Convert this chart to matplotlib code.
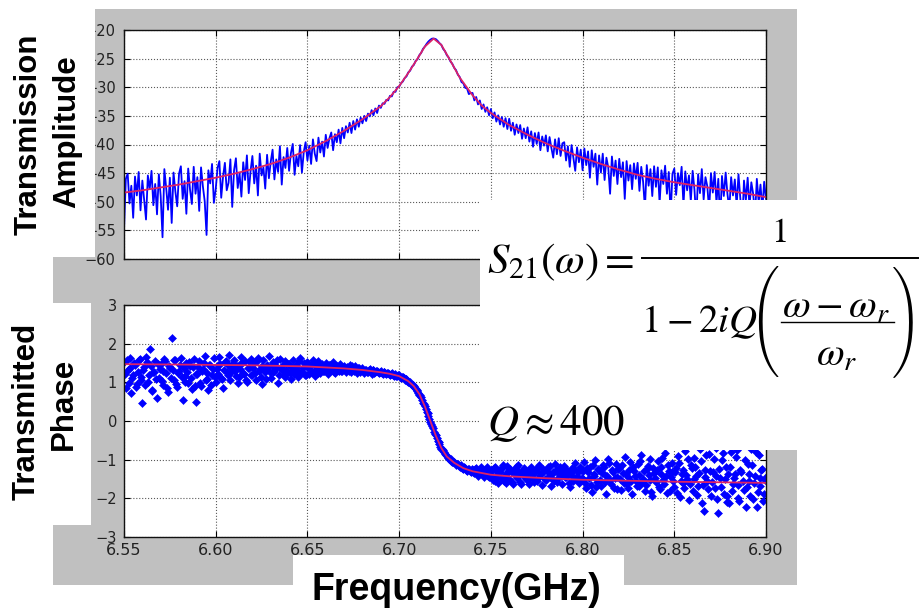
import os
import numpy as np
import matplotlib
matplotlib.use("Agg")
import matplotlib.pyplot as plt
from matplotlib.patches import Rectangle
from matplotlib.lines import Line2D
from matplotlib.font_manager import FontProperties

# ---------------- data ----------------
f_start, f_stop = 6.55, 6.90

# measured transmission amplitude (dB), sweep step 0.001 GHz
amp_db = [
    -54.9, -46.0, -45.1, -50.3, -47.2, -52.8, -45.6, -48.9, -44.8, -51.5,
    -46.3, -49.7, -53.1, -45.4, -47.8, -44.6, -50.6, -46.9, -52.2, -45.2,
    -49.0, -56.2, -44.3, -47.6, -51.4, -45.8, -53.7, -44.9, -48.2, -50.8,
    -45.1, -43.8, -49.5, -46.4, -52.1, -44.2, -47.9, -50.4, -43.9, -48.6,
    -45.7, -51.6, -44.0, -47.3, -49.9, -55.8, -44.5, -46.8, -43.4, -50.2,
    -47.8, -44.1, -42.9, -49.3, -45.6, -43.2, -48.0, -46.7, -42.6, -50.9,
    -44.5, -42.4, -47.6, -45.0, -49.1, -43.1, -46.2, -41.9, -48.5, -44.6,
    -42.0, -46.8, -43.7, -48.9, -41.6, -45.4, -44.0, -47.7, -41.8, -45.9,
    -43.0, -40.9, -46.1, -42.6, -44.8, -40.3, -47.0, -42.2, -44.1, -40.6,
    -44.6, -41.5, -39.9, -45.3, -42.0, -43.8, -40.1, -44.9, -41.3, -39.6,
    -42.8, -40.2, -43.4, -39.1, -41.6, -42.9, -38.8, -41.4, -39.5, -42.1,
    -38.3, -40.6, -38.9, -37.9, -41.0, -38.2, -39.6, -37.4, -39.8, -37.1,
    -38.9, -36.8, -37.9, -36.2, -38.0, -35.9, -37.4, -35.6, -36.9, -35.3,
    -36.3, -35.0, -35.9, -34.6, -35.1, -34.0, -34.9, -33.7, -34.5, -33.2,
    -33.6, -32.8, -32.9, -32.2, -32.3, -31.5, -31.6, -30.8, -30.8, -30.0,
    -29.9, -29.3, -29.0, -28.4, -28.1, -27.4, -27.1, -26.4, -26.1, -25.4,
    -25.1, -24.4, -24.0, -23.3, -22.9, -22.4, -22.0, -21.7, -21.5, -21.5,
    -21.6, -21.9, -22.3, -22.6, -23.3, -23.7, -24.4, -24.8, -25.5, -25.9,
    -26.6, -27.0, -27.8, -28.2, -29.1, -29.3, -30.1, -30.2, -31.2, -31.0,
    -31.0, -32.3, -31.7, -33.0, -32.3, -33.8, -33.0, -34.3, -33.5, -34.9,
    -33.8, -35.4, -34.4, -36.0, -34.9, -36.5, -35.2, -36.9, -35.4, -37.3,
    -35.5, -37.6, -36.2, -38.3, -36.5, -38.0, -36.6, -39.0, -37.2, -38.9,
    -37.0, -39.5, -37.7, -40.4, -38.0, -39.9, -37.9, -41.0, -38.6, -40.2,
    -38.4, -41.2, -38.7, -40.6, -42.3, -39.1, -41.7, -38.9, -42.0, -39.8,
    -39.6, -42.8, -40.3, -43.9, -40.1, -42.4, -44.6, -40.5, -43.1, -40.9,
    -44.5, -40.7, -43.6, -41.2, -45.8, -41.0, -43.9, -41.6, -47.0, -41.9,
    -44.9, -41.6, -46.2, -42.3, -44.0, -48.6, -42.1, -45.5, -42.8, -46.9,
    -42.5, -45.7, -43.1, -49.5, -42.9, -46.3, -43.6, -47.8, -43.3, -46.0,
    -43.2, -48.1, -43.9, -46.5, -51.2, -43.6, -47.2, -44.3, -49.0, -43.8,
    -47.4, -44.0, -50.3, -44.5, -46.9, -43.7, -48.6, -44.8, -52.4, -45.1,
    -44.2, -48.8, -45.0, -47.1, -43.9, -50.6, -44.7, -48.0, -45.4, -49.9,
    -44.6, -47.9, -53.0, -45.2, -48.5, -44.3, -49.6, -45.7, -47.3, -51.5,
    -45.0, -48.4, -44.8, -50.2, -46.0, -53.6, -45.5, -49.0, -44.9, -48.7,
    -51.3, -45.7, -48.9, -46.1, -50.7, -45.2, -49.4, -54.2, -46.3, -49.8,
    -45.8, -50.9, -46.6, -48.6, -52.5, -46.0, -50.1, -47.0, -51.4, -46.5,
    -49.5,
]

# fitted amplitude curve (dB)
fit_amp_f = [6.55, 6.56, 6.57, 6.58, 6.59, 6.60, 6.61, 6.62, 6.63, 6.64,
             6.65, 6.66, 6.67, 6.68, 6.69, 6.695, 6.70, 6.705, 6.71, 6.714,
             6.7188, 6.723, 6.728, 6.733, 6.74, 6.745, 6.75, 6.76, 6.77, 6.78,
             6.79, 6.80, 6.81, 6.82, 6.83, 6.84, 6.85, 6.86, 6.87, 6.88,
             6.89, 6.90]
fit_amp_db = [-48.4, -48.0, -47.5, -47.0, -46.4, -45.8, -45.1, -44.3, -43.4, -42.3,
              -41.0, -39.4, -37.6, -35.6, -33.3, -31.7, -29.8, -27.5, -25.0, -22.9,
              -21.5, -22.6, -25.4, -28.3, -31.4, -33.2, -34.5, -36.6, -38.3, -39.8,
              -41.1, -42.3, -43.4, -44.4, -45.3, -46.0, -46.6, -47.1, -47.6, -48.1,
              -48.6, -49.2]

# measured transmitted phase (rad), points at 6.550, 6.551, ... 6.900 GHz
phase = [
    1.52, 0.85, 1.31, 1.63, 0.72, 1.18, 1.45, 0.96, 1.58, 1.07,
    0.46, 1.39, 1.66, 1.02, 1.85, 0.78, 1.27, 1.55, 0.60, 1.12,
    1.48, 0.92, 1.61, 1.24, 0.74, 1.37, 2.15, 1.05, 1.57, 0.88,
    1.30, 1.62, 0.55, 1.17, 1.50, 0.97, 1.41, 0.83, 1.60, 0.50,
    1.21, 1.56, 0.90, 1.35, 1.68, 1.08, 0.79, 1.46, 1.19, 1.63,
    1.00, 1.44, 1.65, 1.12, 0.86, 1.52, 1.28, 1.70, 1.05, 1.39,
    1.58, 1.16, 0.98, 1.47, 1.66, 1.25, 1.55, 1.02, 1.36, 1.61,
    1.20, 1.49, 1.07, 1.63, 1.34, 0.96, 1.57, 1.26, 1.45, 1.68,
    1.11, 1.53, 1.29, 1.42, 0.99, 1.60, 1.33, 1.18, 1.54, 1.24,
    1.47, 1.08, 1.59, 1.31, 1.40, 1.15, 1.62, 1.27, 1.50, 1.20,
    1.52, 1.22, 1.45, 1.58, 1.16, 1.39, 1.54, 1.25, 1.47, 1.30,
    1.50, 1.21, 1.44, 1.33, 1.52, 1.24, 1.41, 1.29, 1.47, 1.30,
    1.42, 1.27, 1.38, 1.45, 1.26, 1.36, 1.41, 1.24, 1.37, 1.31,
    1.36, 1.25, 1.33, 1.28, 1.35, 1.22, 1.31, 1.27, 1.30, 1.23,
    1.29, 1.22, 1.27, 1.21, 1.24, 1.19, 1.23, 1.17, 1.20, 1.16,
    1.18, 1.12, 1.14, 1.07, 1.08, 1.01, 1.00, 0.93, 0.91, 0.82,
    0.78, 0.68, 0.61, 0.47, 0.39, 0.24, 0.14, -0.02, -0.12, -0.28,
    -0.37, -0.51, -0.59, -0.72, -0.76, -0.86, -0.91, -0.98, -0.99, -1.06,
    -1.06, -1.13, -1.12, -1.20, -1.18, -1.25, -1.21, -1.29, -1.24, -1.32,
    -1.26, -1.35, -1.22, -1.41, -1.29, -1.24, -1.44, -1.31, -1.20, -1.46,
    -1.28, -1.52, -1.19, -1.45, -1.61, -1.33, -1.22, -1.56, -1.38, -1.17,
    -1.49, -1.30, -1.63, -1.25, -1.42, -1.15, -1.58, -1.36, -1.21, -1.50,
    -1.34, -1.64, -1.18, -1.47, -1.27, -1.55, -1.13, -1.40, -1.66, -1.29,
    -1.52, -1.20, -1.44, -1.69, -1.31, -1.12, -1.57, -1.37, -1.24, -1.62,
    -1.16, -1.46, -1.33, -1.71, -1.22, -1.54, -1.09, -1.41, -1.60, -1.28,
    -1.50, -1.05, -1.74, -1.32, -1.19, -1.83, -1.43, -1.01, -1.58, -1.26,
    -1.67, -1.14, -1.39, -1.88, -0.97, -1.53, -1.28, -1.72, -1.10, -1.46,
    -1.21, -1.79, -1.35, -0.92, -1.62, -1.44, -1.07, -1.90, -1.30, -1.56,
    -1.12, -1.68, -0.88, -1.49, -1.81, -1.25, -1.40, -0.99, -1.95, -1.34,
    -1.59, -1.03, -1.76, -1.18, -1.52, -0.84, -1.86, -1.29, -1.45, -1.08,
    -1.70, -1.22, -0.90, -1.97, -1.38, -1.61, -0.78, -1.49, -2.05, -1.15,
    -1.82, -0.95, -1.43, -1.68, -0.72, -2.12, -2.34, -1.26, -1.55, -0.86,
    -1.93, -1.31, -1.74, -0.69, -2.38, -1.47, -1.02, -1.88, -1.20, -2.10,
    -2.13, -0.81, -1.62, -1.36, -0.75, -1.98, -1.27, -0.62, -1.79, -2.22,
    -1.10, -1.56, -0.73, -2.03, -1.41, -2.22, -0.88, -1.67, -1.24, -1.90,
    -1.45,
]

# measured transmitted phase (rad), in-between points at 6.5505 ... 6.8995 GHz
phase_mid = [
    1.21, 1.57, 0.98, 1.36, 1.12, 1.49, 0.88, 1.28, 1.61, 1.15,
    1.33, 0.94, 1.52, 1.19, 1.41, 0.81, 1.26, 1.08, 1.47, 1.35,
    1.03, 1.29, 1.54, 0.86, 1.43, 1.10, 1.32, 1.59, 0.95, 1.25,
    1.46, 1.14, 1.37, 1.00, 1.27, 1.53, 1.11, 1.39, 0.91, 1.22,
    1.40, 0.99, 1.30, 1.51, 1.06, 1.23, 1.44, 0.93, 1.34, 1.13,
    1.35, 1.21, 1.48, 1.09, 1.31, 1.56, 1.18, 1.42, 1.27, 1.50,
    1.29, 1.41, 1.13, 1.34, 1.49, 1.22, 1.06, 1.38, 1.53, 1.19,
    1.37, 1.23, 1.55, 1.30, 1.14, 1.43, 1.32, 1.09, 1.39, 1.28,
    1.44, 1.26, 1.35, 1.58, 1.20, 1.37, 1.46, 1.13, 1.32, 1.48,
    1.25, 1.38, 1.21, 1.46, 1.33, 1.55, 1.24, 1.36, 1.19, 1.42,
    1.36, 1.43, 1.27, 1.51, 1.34, 1.23, 1.46, 1.38, 1.29, 1.44,
    1.37, 1.28, 1.46, 1.35, 1.26, 1.40, 1.33, 1.45, 1.29, 1.38,
    1.33, 1.40, 1.30, 1.35, 1.42, 1.29, 1.34, 1.38, 1.27, 1.33,
    1.30, 1.33, 1.26, 1.32, 1.29, 1.31, 1.25, 1.29, 1.26, 1.28,
    1.25, 1.26, 1.23, 1.25, 1.21, 1.22, 1.19, 1.21, 1.17, 1.18,
    1.14, 1.14, 1.10, 1.08, 1.04, 1.02, 0.96, 0.93, 0.86, 0.81,
    0.73, 0.66, 0.54, 0.44, 0.31, 0.20, 0.06, -0.07, -0.19, -0.33,
    -0.44, -0.54, -0.66, -0.73, -0.81, -0.87, -0.95, -0.97, -1.03, -1.05,
    -1.08, -1.11, -1.16, -1.15, -1.22, -1.19, -1.27, -1.23, -1.30, -1.25,
    -1.33, -1.23, -1.38, -1.27, -1.19, -1.40, -1.30, -1.25, -1.43, -1.33,
    -1.41, -1.21, -1.55, -1.32, -1.26, -1.48, -1.15, -1.43, -1.60, -1.30,
    -1.24, -1.57, -1.37, -1.18, -1.47, -1.33, -1.62, -1.27, -1.44, -1.35,
    -1.52, -1.23, -1.39, -1.59, -1.30, -1.20, -1.45, -1.35, -1.25, -1.50,
    -1.29, -1.43, -1.16, -1.38, -1.56, -1.26, -1.48, -1.19, -1.41, -1.34,
    -1.45, -1.27, -1.61, -1.35, -1.42, -1.24, -1.51, -1.32, -1.19, -1.47,
    -1.30, -1.61, -1.22, -1.47, -1.66, -1.14, -1.38, -1.70, -1.25, -1.52,
    -1.35, -1.20, -1.57, -1.43, -1.09, -1.64, -1.31, -1.48, -1.77, -1.24,
    -1.49, -1.13, -1.60, -1.36, -1.73, -1.27, -1.55, -1.18, -1.42, -1.68,
    -1.40, -1.04, -1.58, -1.30, -1.65, -1.17, -1.52, -1.84, -1.22, -1.47,
    -1.28, -1.71, -1.37, -0.95, -1.63, -1.41, -1.14, -1.80, -1.33, -1.56,
    -1.32, -1.85, -1.08, -1.54, -1.27, -1.72, -1.40, -0.97, -1.63, -1.21,
    -1.50, -1.18, -1.91, -1.35, -1.03, -1.66, -1.44, -0.88, -1.77, -1.29,
    -1.58, -0.99, -1.42, -2.01, -1.25, -1.70, -0.83, -1.51, -1.94, -1.36,
    -1.19, -1.80, -1.47, -0.92, -1.66, -2.08, -1.33, -1.55, -1.02, -1.71,
    -1.38, -1.95, -1.14, -1.60, -0.79, -1.83, -1.48, -1.26, -2.06, -1.52,
]

# fitted phase curve (rad)
fit_ph_f = [6.55, 6.58, 6.62, 6.65, 6.67, 6.68, 6.69, 6.695, 6.70, 6.705,
            6.708, 6.711, 6.714, 6.717, 6.720, 6.723, 6.726, 6.73, 6.735, 6.74,
            6.75, 6.76, 6.78, 6.80, 6.85, 6.90]
fit_ph = [1.47, 1.46, 1.44, 1.41, 1.36, 1.32, 1.26, 1.22, 1.16, 1.03,
          0.90, 0.70, 0.38, 0.0, -0.38, -0.70, -0.92, -1.08, -1.22, -1.30,
          -1.39, -1.43, -1.48, -1.52, -1.57, -1.60]

xtick_vals = [6.55, 6.60, 6.65, 6.70, 6.75, 6.80, 6.85, 6.90]
xtick_labels = ["6.55", "6.60", "6.65", "6.70", "6.75", "6.80", "6.85", "6.90"]
amp_ticks = [-60, -55, -50, -45, -40, -35, -30, -25, -20]
ph_ticks = [-3, -2, -1, 0, 1, 2, 3]

f_amp = np.linspace(f_start, f_stop, len(amp_db))
f_ph = np.linspace(f_start, f_stop, len(phase))
f_ph_mid = np.linspace(6.5505, 6.8995, len(phase_mid))

# ---------------- figure ----------------
W, H = 922, 608
fig = plt.figure(figsize=(W / 100, H / 100), dpi=100, facecolor="white")

def X(x):
    return x / W

def Y(y):
    return 1 - y / H

def rect(x0, y0, x1, y1, color, z):
    fig.patches.append(Rectangle((X(x0), Y(y1)), (x1 - x0) / W, (y1 - y0) / H,
                                 transform=fig.transFigure, facecolor=color,
                                 edgecolor="none", zorder=z))

def hbar(x0, x1, y, lw):
    fig.add_artist(Line2D([X(x0), X(x1)], [Y(y), Y(y)], color="black", lw=lw,
                          transform=fig.transFigure, zorder=10))

GREY = "#c0c0c0"
rect(53, 9, 797, 585, GREY, -5)

BLUE = "#0000ff"
RED = "#dd2266"

def style(ax, ylim, yticks, show_x, ypad):
    ax.set_xlim(f_start, f_stop)
    ax.set_ylim(*ylim)
    ax.set_yticks(yticks)
    ax.set_xticks(xtick_vals)
    if show_x:
        ax.set_xticklabels(xtick_labels)
    else:
        ax.set_xticklabels([])
    ax.tick_params(direction="in", length=4, width=0.8, top=True, right=True,
                   labelcolor="#222222")
    ax.tick_params(axis="y", labelsize=10.5, pad=ypad)
    ax.tick_params(axis="x", labelsize=11.5, pad=4)
    ax.grid(True, color="0.35", linestyle=":", linewidth=0.8)
    ax.set_axisbelow(True)
    for s in ax.spines.values():
        s.set_linewidth(1.0)
        s.set_color("#111111")
    ax.set_facecolor("white")

ax1 = fig.add_axes([X(124), Y(259), 642 / W, 229 / H])
ax1.plot(f_amp, amp_db, color=BLUE, lw=1.3)
ax1.plot(fit_amp_f, fit_amp_db, color=RED, lw=1.3)
style(ax1, (-60, -20), amp_ticks, False, 6)

ax2 = fig.add_axes([X(124), Y(537), 642 / W, 232 / H])
mk = dict(linestyle="none", marker="D", markersize=3.7, color=BLUE,
          markeredgewidth=0.4)
ax2.plot(f_ph, phase, **mk)
ax2.plot(f_ph_mid, phase_mid, **mk)
ax2.plot(fit_ph_f, fit_ph, color=RED, lw=1.3)
style(ax2, (-3, 3), ph_ticks, True, 5)

# white overlay boxes (slide annotations)
rect(0, 0, 95, 257, "white", 5)
rect(0, 303, 91, 525, "white", 5)
rect(293, 555, 624, 608, "white", 5)
rect(480, 200, 922, 450, "white", 5)

lab = dict(fontfamily="Liberation Sans", fontweight="bold", color="black",
           rotation=90, rotation_mode="anchor", ha="center", va="baseline",
           fontsize=22.5, zorder=10)
fig.text(X(37), Y(134.5), "Transmission", **lab)
fig.text(X(75), Y(132), "Amplitude", **lab)
fig.text(X(35), Y(411.5), "Transmitted", **lab)
fig.text(X(72), Y(404), "Phase", **lab)

fig.text(X(312), Y(600), "Frequency(GHz)", fontfamily="Liberation Sans",
         fontweight="bold", fontsize=27, ha="left", va="baseline", zorder=10)

# equation, assembled piece by piece
eq = dict(math_fontfamily="stix", color="black", zorder=10)
fig.text(X(487), Y(273), r"$S_{21}(\omega)=$", fontsize=31, ha="left",
         va="baseline", **eq)
hbar(642, 918, 258, 1.4)
fig.text(X(779), Y(242), r"$1$", fontsize=25, ha="center", va="baseline", **eq)
fig.text(X(641), Y(332), r"$1-2iQ$", fontsize=28, ha="left", va="baseline", **eq)
fig.text(X(836), Y(318), r"$\omega-\omega_r$", fontsize=29, ha="center",
         va="baseline", **eq)
hbar(781, 894, 322, 1.0)
fig.text(X(837), Y(366), r"$\omega_r$", fontsize=29, ha="center",
         va="baseline", **eq)

# tall thin parentheses (Computer Modern extension font, largest size)
cmex = FontProperties(fname=os.path.join(matplotlib.get_data_path(), "fonts",
                                         "ttf", "cmex10.ttf"), size=27)
fig.text(X(764), Y(321.5), "\xc3", fontproperties=cmex, ha="center",
         va="center", color="black", zorder=10)
fig.text(X(907), Y(321.5), "!", fontproperties=cmex, ha="center",
         va="center", color="black", zorder=10)

fig.text(X(487), Y(435), r"$Q\approx 400$", fontsize=31, ha="left",
         va="baseline", **eq)

fig.savefig("out.png", dpi=100, facecolor="white")
